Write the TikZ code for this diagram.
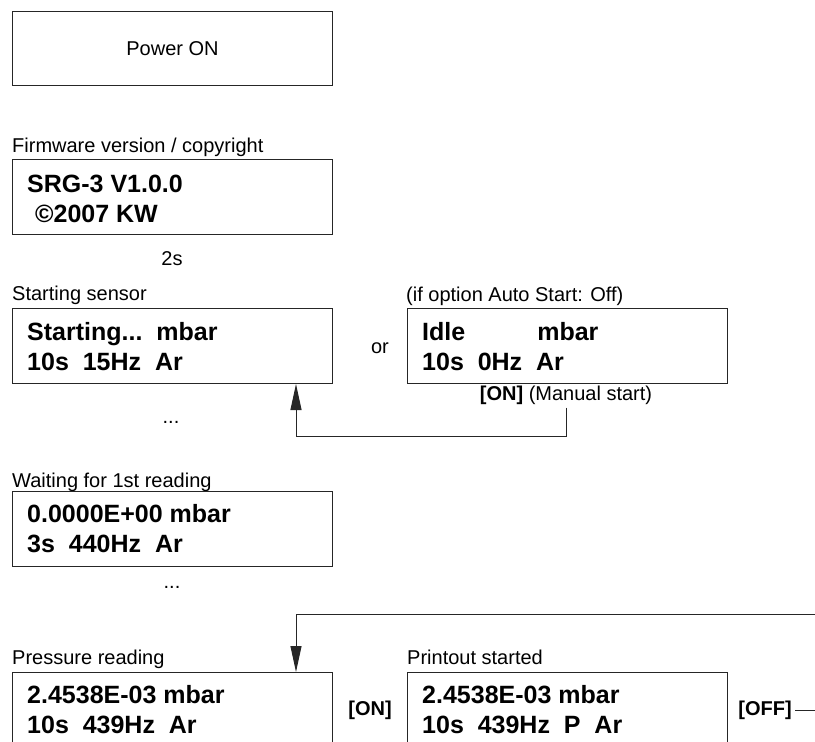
\documentclass[tikz,border=0pt]{standalone}
\usepackage{fontspec}
\setmainfont{Liberation Sans}
\usetikzlibrary{arrows.meta}

\begin{document}
\begin{tikzpicture}[
    x=1pt, y=-1pt,
    font=\fontsize{20}{24}\selectfont,
    layar/.style={draw=black!85, line width=1pt, minimum width=320pt,
                  minimum height=75pt, anchor=north west, inner sep=0pt},
    baris/.style={anchor=base west, align=left, inner sep=0pt,
                  font=\fontsize{25}{30}\selectfont\bfseries},
    judul/.style={anchor=base west, inner sep=0pt},
    tombol/.style={font=\fontsize{20}{24}\selectfont\bfseries},
    alur/.style={-{Triangle[length=26pt, width=11pt]}, draw=black!85,
                 line width=1pt}
  ]
    \useasboundingbox (0,0) rectangle (815,742);
    \clip (0,0) rectangle (815,742);
    \node[layar, minimum height=74pt] (power) at (12,11) {Power ON};

    % base of a two-line node = baseline of the second line
    \node[judul] (tfw) at (12,152) {Firmware version / copyright};
    \node[layar] (fw) at (12,159) {};
    \node[baris] (isifw) at ([shift={(15,63)}]fw.north west)
      {SRG-3 V1.0.0\\\hspace*{8pt}©2007 KW};
    \node[anchor=base] (dua) at (172,265) {2s};

    \node[judul] (tstart) at (12,300) {Starting sensor};
    \node[layar] (start) at (12,308) {};
    \node[baris] (isistart) at ([shift={(15,62)}]start.north west)
      {Starting...~~mbar\\10s~~15Hz~~Ar};
    \node (atau) at (380,348) {or};
    \node[judul] (tidle) at (406,301) {(if option Auto Start: Off)};
    \node[layar] (idle) at (407,308) {};
    \node[baris] (isiidle) at ([shift={(15,62)}]idle.north west)
      {Idle\hspace{72pt}mbar\\10s~~0Hz~~Ar};
    \node[anchor=base] (manual) at (566,400) {\textbf{[ON]} (Manual start)};
    \node[anchor=base] (titik1) at (171,423) {...};

    \node[judul] (twait) at (12,487) {Waiting for 1st reading};
    \node[layar] (wait) at (12,491) {};
    \node[baris] (isiwait) at ([shift={(15,61)}]wait.north west)
      {0.0000E+00 mbar\\3s~~440Hz~~Ar};
    \node[anchor=base] (titik2) at (172,588) {...};

    \node[judul] (tpress) at (12,664) {Pressure reading};
    \node[layar] (press) at (12,672) {};
    \node[baris] (isipress) at ([shift={(15,61)}]press.north west)
      {2.4538E-03 mbar\\10s~~439Hz~~Ar};
    \node[tombol] (on) at (370,710) {[ON]};
    \node[judul] (tprint) at (407,664) {Printout started};
    \node[layar] (print) at (407,672) {};
    \node[baris] (isiprint) at ([shift={(15,61)}]print.north west)
      {2.4538E-03 mbar\\10s~~439Hz~~P~~Ar};
    \node[tombol] (off) at (765,710) {[OFF]};

    \draw[alur] (manual.south) -- ++(0,29) -| ([xshift=-37pt]start.south east);
    \draw[alur] (off.east) -- ++(40,0) -- ++(0,-96)
      -| ([xshift=-37pt]press.north east);
  \end{tikzpicture}
\end{document}
